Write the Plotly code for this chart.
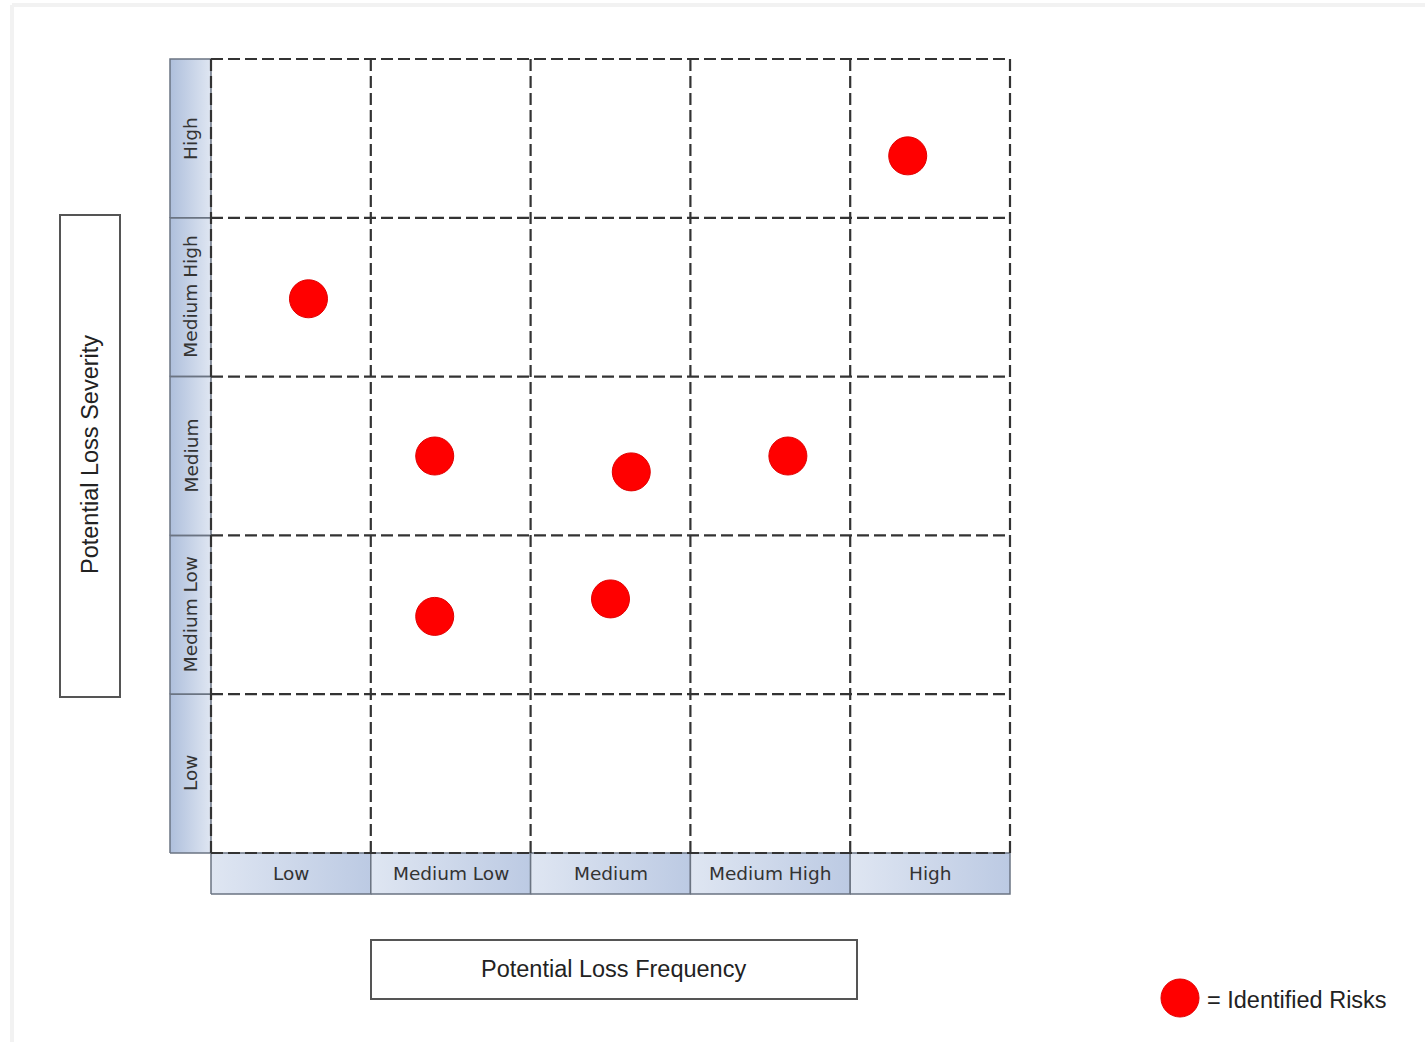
import plotly.graph_objects as go

# ---------------- data ----------------
frequency_levels = ["Low", "Medium Low", "Medium", "Medium High", "High"]
severity_levels = ["Low", "Medium Low", "Medium", "Medium High", "High"]

# risk positions in grid units (column/row index + position inside cell)
risk_frequency = [4.36, 0.61, 1.40, 2.63, 3.61, 1.40, 2.50]
risk_severity = [4.39, 3.49, 2.50, 2.40, 2.50, 1.49, 1.60]

x_title = "Potential Loss Frequency"
y_title = "Potential Loss Severity"
legend_text = "= Identified Risks"

# ---------------- layout geometry (pixels) ----------------
W, H = 1425, 1042
GX0, GX1 = 211, 1010     # grid left/right
GY0, GY1 = 853, 59       # grid bottom/top
n = len(frequency_levels)
ux = (GX1 - GX0) / n
uy = (GY0 - GY1) / n

def dx(px):
    return (px - GX0) / ux

def dy(py):
    return (GY0 - py) / uy

fig = go.Figure()

LEFT_W = dx(170)         # left label column edge
BOT_H = dy(894)          # bottom label row edge

# left label column (severity)
xs, ys = [], []
for i in range(n):
    xs += [LEFT_W, 0, 0, LEFT_W, LEFT_W, None]
    ys += [i, i, i + 1, i + 1, i, None]
fig.add_trace(go.Scatter(
    x=xs, y=ys, mode="lines", fill="toself",
    fillgradient=dict(type="horizontal",
                      colorscale=[[0, "#aebfdc"], [1, "#dfe6f2"]]),
    line=dict(color="#6b7482", width=1.5), hoverinfo="skip", showlegend=False))

# bottom label row (frequency)
for i in range(n):
    fig.add_trace(go.Scatter(
        x=[i, i + 1, i + 1, i, i], y=[BOT_H, BOT_H, 0, 0, BOT_H],
        mode="lines", fill="toself",
        fillgradient=dict(type="horizontal",
                          colorscale=[[0, "#dfe6f2"], [1, "#bccae3"]]),
        line=dict(color="#6b7482", width=1.5), hoverinfo="skip", showlegend=False))

# dashed grid
for k in range(n + 1):
    fig.add_trace(go.Scatter(x=[k, k], y=[0, n], mode="lines",
                             line=dict(color="#333333", width=2.2, dash="12px,5px"),
                             hoverinfo="skip", showlegend=False))
    fig.add_trace(go.Scatter(x=[0, n], y=[k, k], mode="lines",
                             line=dict(color="#333333", width=2.2, dash="12px,5px"),
                             hoverinfo="skip", showlegend=False))

# category labels
for i, lab in enumerate(frequency_levels):
    fig.add_annotation(x=i + 0.5, y=BOT_H / 2, text=lab, showarrow=False,
                       font=dict(family="DejaVu Sans", size=18.5, color="#333333"))
for i, lab in enumerate(severity_levels):
    fig.add_annotation(x=LEFT_W / 2, y=i + 0.5, text=lab, showarrow=False,
                       textangle=-90,
                       font=dict(family="DejaVu Sans", size=18.5, color="#333333"))

# risk markers
fig.add_trace(go.Scatter(
    x=risk_frequency, y=risk_severity, mode="markers",
    marker=dict(size=38, color="#ff0000", line=dict(color="#e00000", width=1)),
    name="Identified Risks", showlegend=False))

# title boxes
fig.add_shape(type="rect", x0=dx(60), x1=dx(120), y0=dy(697), y1=dy(215),
              line=dict(color="#555555", width=2), fillcolor="white")
fig.add_annotation(x=dx(90), y=dy(455), text=y_title, showarrow=False, textangle=-90,
                   font=dict(family="Liberation Sans", size=23.5, color="#222222"))
fig.add_shape(type="rect", x0=dx(371), x1=dx(857), y0=dy(999), y1=dy(940),
              line=dict(color="#555555", width=2), fillcolor="white")
fig.add_annotation(x=dx(613), y=dy(969), text=x_title, showarrow=False,
                   font=dict(family="Liberation Sans", size=23.5, color="#222222"))

# legend
fig.add_shape(type="circle", x0=dx(1161), x1=dx(1199), y0=dy(1017), y1=dy(979),
              fillcolor="#ff0000", line=dict(color="#e00000", width=1))
fig.add_annotation(x=dx(1205), y=dy(1000), text=legend_text, showarrow=False,
                   xanchor="left",
                   font=dict(family="Liberation Sans", size=23.5, color="#222222"))

# faint outer frame
fig.add_shape(type="line", x0=dx(12), x1=dx(12), y0=dy(5), y1=dy(1042),
              line=dict(color="#f2f2f2", width=4))
fig.add_shape(type="line", x0=dx(12), x1=dx(1425), y0=dy(5), y1=dy(5),
              line=dict(color="#f2f2f2", width=4))

fig.update_xaxes(range=[dx(0), dx(W)], visible=False, fixedrange=True)
fig.update_yaxes(range=[dy(H), dy(0)], visible=False, fixedrange=True)
fig.update_layout(width=W, height=H, autosize=False,
                  margin=dict(l=0, r=0, t=0, b=0, pad=0),
                  plot_bgcolor="white", paper_bgcolor="white")

fig.write_html("out.html")
